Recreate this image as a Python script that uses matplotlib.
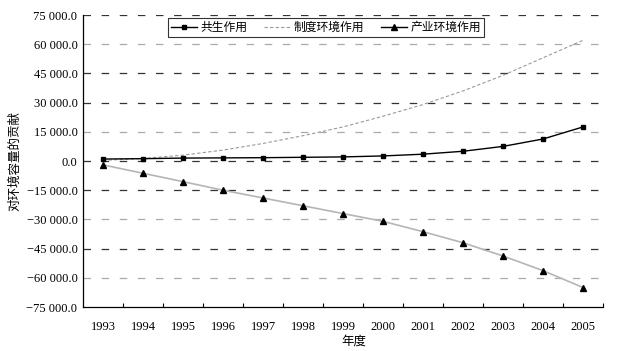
import matplotlib
matplotlib.use("Agg")
import matplotlib.pyplot as plt
from matplotlib.lines import Line2D
from matplotlib.ticker import FuncFormatter, FixedLocator

years = ["1993", "1994", "1995", "1996", "1997", "1998", "1999",
         "2000", "2001", "2002", "2003", "2004", "2005"]
symbiosis = [1000, 1200, 1500, 1600, 1700, 1900, 2100, 2600, 3500, 5000, 7500, 11300, 17500]
institution = [300, 1300, 3000, 5600, 9000, 13000, 17500, 23000, 29000, 36000, 44000, 53000, 62000]
industry = [-2000, -6300, -10600, -15000, -19000, -23000, -27000, -31000, -36300, -42000, -48800, -56300, -65000]
yticks = [75000, 60000, 45000, 30000, 15000, 0, -15000, -30000, -45000, -60000, -75000]
names = ["共生作用", "制度环境作用", "产业环境作用"]

cjk = ["Noto Sans CJK SC", "DejaVu Sans"]
serif = ["Liberation Serif", "DejaVu Serif"]

fig = plt.figure(figsize=(6.18, 3.51), dpi=100)
ax = fig.add_axes([83/618, 1-307/351, 520/618, 292/351])

x = list(range(len(years)))

# gridlines
dark = {75000, 45000, 30000, 0, -15000, -45000}
for v in yticks:
    if v == -75000:
        continue
    ax.axhline(v, color="#333333" if v in dark else "#aaaaaa", lw=0.9,
               dashes=(6, 8.5), zorder=1)

ax.plot(x, institution, color="#999999", lw=0.8, dashes=(3, 2), zorder=2)
ax.plot(x, industry, color="#b5b5b5", lw=1.2, zorder=2)
ax.plot(x, industry, ls="none", marker="^", ms=4.5, color="black", zorder=3)
ax.plot(x, symbiosis, color="black", lw=1.0, marker="s", ms=3.5, zorder=3)

ax.set_xlim(-0.5, len(years) - 0.5)
ax.set_ylim(-75000, 75000)
ax.set_yticks(yticks)

def fmt(v, pos):
    s = f"{abs(v):,.1f}".replace(",", " ")
    return ("−" + s) if v < 0 else s

ax.yaxis.set_major_formatter(FuncFormatter(fmt))
ax.set_xticks(x)
ax.set_xticklabels(years)
ax.xaxis.set_minor_locator(FixedLocator([i + 0.5 for i in x]))
ax.tick_params(axis="x", which="major", length=0, pad=10)
ax.tick_params(axis="x", which="minor", direction="in", length=3, width=0.8)
ax.tick_params(axis="y", length=0, pad=4)
for lab in ax.get_xticklabels() + ax.get_yticklabels():
    lab.set_fontfamily(serif)
    lab.set_fontsize(9)

for s in ["top", "right"]:
    ax.spines[s].set_visible(False)
for s in ["left", "bottom"]:
    ax.spines[s].set_linewidth(0.9)

ax.set_xlabel("年度", family=cjk, fontsize=9, labelpad=1)
ax.xaxis.set_label_coords(0.52, -0.095)
ax.set_ylabel("对环境容量的贡献", family=cjk, fontsize=9, labelpad=4)

handles = [
    Line2D([], [], color="black", lw=1.0, marker="s", ms=3.5),
    Line2D([], [], color="#999999", lw=0.8, dashes=(3, 2)),
    Line2D([], [], color="black", lw=1.0, marker="^", ms=4.5),
]
leg = ax.legend(handles, names, loc="upper center", bbox_to_anchor=(0.467, 0.99),
                ncol=3, frameon=True, fancybox=False, edgecolor="black",
                prop={"family": cjk, "size": 8.5}, handlelength=2.2,
                columnspacing=1.4, handletextpad=0.3, borderpad=0.25,
                borderaxespad=0)
leg.get_frame().set_linewidth(0.8)

fig.savefig("out.png", dpi=100)
